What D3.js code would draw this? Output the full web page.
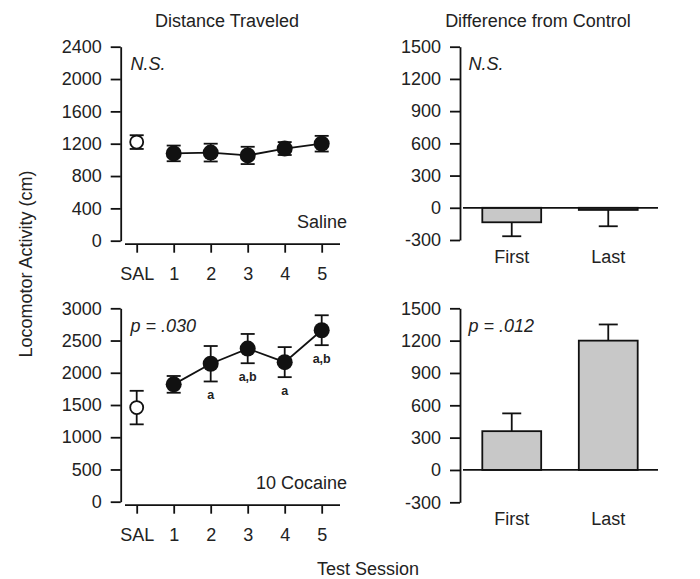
<!DOCTYPE html>
<html>
<head>
<meta charset="utf-8">
<script src="https://cdn.jsdelivr.net/npm/d3@7"></script>
<style>
  body { margin: 0; background: #fff; }
  svg { font-family: "Liberation Sans", Arial, sans-serif; }
  .tick text { font-size: 18px; fill: #222; }
</style>
</head>
<body>
<svg id="chart" width="700" height="579"></svg>
<script>
// categories
const sessions = ["SAL", "1", "2", "3", "4", "5"];
const diffGroups = ["First", "Last"];

// distance traveled (cm), mean and SEM
const salineMean = [1220, 1080, 1090, 1055, 1140, 1200];
const salineErr = [85, 97, 110, 107, 80, 97];
const cocaineMean = [1460, 1820, 2140, 2375, 2165, 2660];
const cocaineErr = [260, 130, 275, 227, 233, 232];
const cocaineMarks = ["", "", "a", "a,b", "a", "a,b"];

// difference from control
const salineDiff = [-135, -20];
const salineDiffErr = [130, 152];
const cocaineDiff = [360, 1200];
const cocaineDiffErr = [165, 150];

const svg = d3.select("#chart");
const INK = "#111";
const SW = 1.8;
const fmtInt = d => String(d);   // plain hyphen for negatives

function yAxis(g, y, x0, major, minor) {
    const ga = g.append("g").attr("transform", `translate(${x0},0)`);
    ga.call(d3.axisLeft(y).tickValues(minor).tickSize(4.5).tickSizeOuter(0).tickFormat(""));
    ga.call(d3.axisLeft(y).tickValues(major).tickSize(10).tickSizeOuter(0).tickPadding(9).tickFormat(fmtInt));
    ga.selectAll("path, line").attr("stroke", INK).attr("stroke-width", SW);
}

function linePanel(top, bottom, yMax, yStep, minorStep, mean, err, marks, statText, label) {
    const y = d3.scaleLinear().domain([0, yMax]).range([bottom, top]);
    const x = d3.scalePoint().domain(sessions).range([136.7, 321.7]);
    const g = svg.append("g");

    yAxis(g, y, 120.7, d3.range(0, yMax + 1, yStep), d3.range(0, yMax + 1, minorStep));

    // x axis, detached a little below the y range
    const xa = g.append("g").attr("transform", `translate(0,${bottom + 3.5})`);
    xa.call(d3.axisBottom(x).tickSize(8.5).tickSizeOuter(0).tickPadding(15));
    xa.select(".domain").remove();
    xa.append("line").attr("x1", 125).attr("x2", 340);
    xa.selectAll("line").attr("stroke", INK).attr("stroke-width", SW);

    const idx = d3.range(1, sessions.length);

    // error bars
    const capW = 7;
    const eb = g.append("g").attr("stroke", INK).attr("stroke-width", SW);
    sessions.forEach((s, i) => {
        const cx = x(s);
        const y1 = y(mean[i] + err[i]), y2 = y(mean[i] - err[i]);
        eb.append("line").attr("x1", cx).attr("x2", cx).attr("y1", y1).attr("y2", y2);
        eb.append("line").attr("x1", cx - capW).attr("x2", cx + capW).attr("y1", y1).attr("y2", y1);
        eb.append("line").attr("x1", cx - capW).attr("x2", cx + capW).attr("y1", y2).attr("y2", y2);
    });

    // connecting line for sessions 1-5
    g.append("path")
        .datum(idx)
        .attr("fill", "none")
        .attr("stroke", INK)
        .attr("stroke-width", SW)
        .attr("d", d3.line().x(i => x(sessions[i])).y(i => y(mean[i])));

    // saline control point
    g.append("circle")
        .attr("cx", x(sessions[0])).attr("cy", y(mean[0])).attr("r", 6.5)
        .attr("fill", "#fff").attr("stroke", INK).attr("stroke-width", SW);

    g.selectAll(".dot").data(idx).join("circle")
        .attr("class", "dot")
        .attr("cx", i => x(sessions[i])).attr("cy", i => y(mean[i])).attr("r", 8)
        .attr("fill", INK);

    if (marks) {
        g.selectAll(".mark").data(idx.filter(i => marks[i])).join("text")
            .attr("class", "mark")
            .attr("x", i => x(sessions[i]))
            .attr("y", i => y(mean[i] - err[i]) + 18)
            .attr("text-anchor", "middle")
            .attr("font-size", 12.5)
            .attr("font-weight", "bold")
            .attr("fill", "#222")
            .text(i => marks[i]);
    }

    g.append("text").attr("x", 130.5).attr("y", top + 23.5)
        .attr("font-size", 18).attr("font-style", "italic").attr("fill", "#222")
        .text(statText);
    g.append("text").attr("x", 347).attr("y", bottom - 12.4)
        .attr("text-anchor", "end").attr("font-size", 18).attr("fill", "#222")
        .text(label);
}

function barPanel(top, bottom, values, errs, statText) {
    const y = d3.scaleLinear().domain([-300, 1500]).range([bottom, top]);
    const x = d3.scaleBand().domain(diffGroups).range([463, 657]).paddingInner(0.39).paddingOuter(0.2);
    const g = svg.append("g");

    yAxis(g, y, 460, d3.range(-300, 1501, 300), d3.range(-300, 1501, 150));

    // error bars (one-sided, away from zero)
    const capW = 9.5;
    const eb = g.append("g").attr("stroke", INK).attr("stroke-width", SW);
    diffGroups.forEach((d, i) => {
        const cx = x(d) + x.bandwidth() / 2;
        const sgn = values[i] >= 0 ? 1 : -1;
        const ye = y(values[i] + sgn * errs[i]);
        eb.append("line").attr("x1", cx).attr("x2", cx).attr("y1", y(values[i])).attr("y2", ye);
        eb.append("line").attr("x1", cx - capW).attr("x2", cx + capW).attr("y1", ye).attr("y2", ye);
    });

    g.selectAll(".bar").data(values).join("rect")
        .attr("class", "bar")
        .attr("x", (v, i) => x(diffGroups[i]))
        .attr("width", x.bandwidth())
        .attr("y", v => y(Math.max(0, v)))
        .attr("height", v => Math.max(1, Math.abs(y(v) - y(0))))
        .attr("fill", "#c8c8c8")
        .attr("stroke", INK)
        .attr("stroke-width", SW);

    // zero line
    g.append("line").attr("x1", 463).attr("x2", 658).attr("y1", y(0)).attr("y2", y(0))
        .attr("stroke", INK).attr("stroke-width", SW);

    // group labels
    g.selectAll(".glab").data(diffGroups).join("text")
        .attr("class", "glab")
        .attr("x", d => x(d) + x.bandwidth() / 2)
        .attr("y", bottom + 22.5)
        .attr("text-anchor", "middle")
        .attr("font-size", 18).attr("fill", "#222")
        .text(d => d);

    g.append("text").attr("x", 468.5).attr("y", top + 23.5)
        .attr("font-size", 18).attr("font-style", "italic").attr("fill", "#222")
        .text(statText);
}

linePanel(46.7, 240.7, 2400, 400, 200, salineMean, salineErr, null, "N.S.", "Saline");
linePanel(308.3, 501.7, 3000, 500, 250, cocaineMean, cocaineErr, cocaineMarks, "p = .030", "10 Cocaine");
barPanel(46.7, 240, salineDiff, salineDiffErr, "N.S.");
barPanel(308.3, 502.3, cocaineDiff, cocaineDiffErr, "p = .012");

// titles
svg.append("text").attr("x", 227).attr("y", 27).attr("text-anchor", "middle")
    .attr("font-size", 18).attr("fill", "#222").text("Distance Traveled");
svg.append("text").attr("x", 538).attr("y", 27).attr("text-anchor", "middle")
    .attr("font-size", 18).attr("fill", "#222").text("Difference from Control");
svg.append("text").attr("transform", "translate(32,264) rotate(-90)").attr("text-anchor", "middle")
    .attr("font-size", 18).attr("fill", "#222").text("Locomotor Activity (cm)");
svg.append("text").attr("x", 368).attr("y", 575).attr("text-anchor", "middle")
    .attr("font-size", 18).attr("fill", "#222").text("Test Session");
</script>
</body>
</html>
